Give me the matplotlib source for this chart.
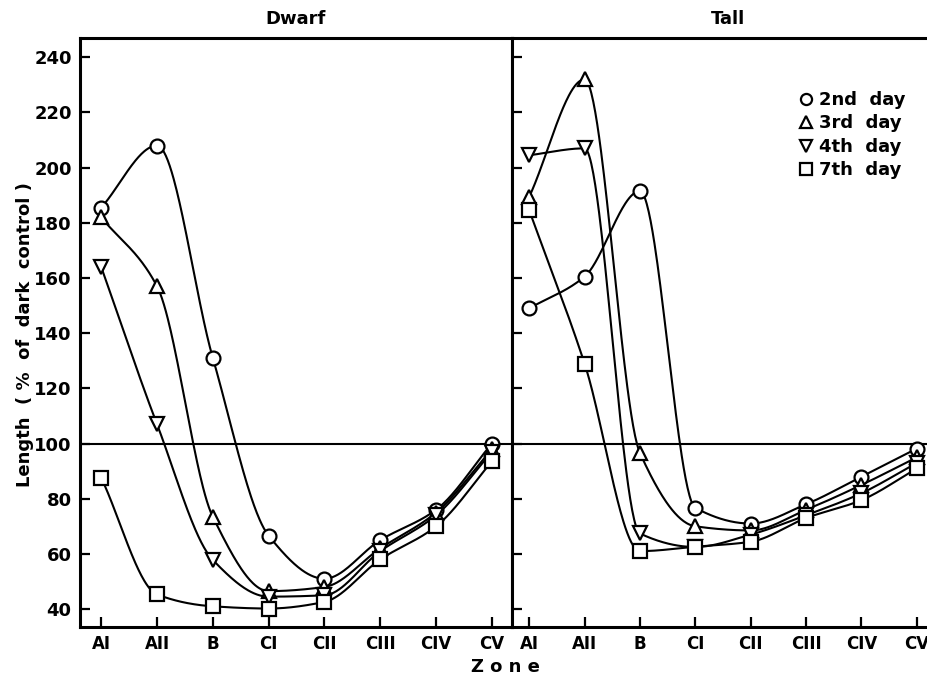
import numpy as np
import matplotlib
matplotlib.use("Agg")
import matplotlib.pyplot as plt

plt.rcParams['font.family'] = ['DejaVu Sans']
plt.rcParams['font.weight'] = 'bold'

zones = ["AI", "AII", "B", "CI", "CII", "CIII", "CIV", "CV"]
days = ["2nd  day", "3rd  day", "4th  day", "7th  day"]
markers = ["o", "^", "v", "s"]

dwarf_2nd = [185.5, 208, 131, 66.6, 51, 65, 76, 100]
dwarf_3rd = [182, 157, 73.4, 46.5, 48, 62, 75, 98]
dwarf_4th = [164, 107, 57.8, 44.5, 45, 61, 74, 97]
dwarf_7th = [87.6, 45.3, 41, 40.2, 42.6, 58, 70, 93.5]

tall_2nd = [149, 160.5, 191.5, 76.7, 71, 78, 88, 98.2]
tall_3rd = [189.4, 232, 96.6, 70, 68.5, 76, 85, 95]
tall_4th = [204.5, 207, 67.4, 62.5, 67, 74, 82, 93]
tall_7th = [184.6, 129, 61, 62.6, 64.4, 73, 79.5, 91]

dwarf = [dwarf_2nd, dwarf_3rd, dwarf_4th, dwarf_7th]
tall = [tall_2nd, tall_3rd, tall_4th, tall_7th]


def pchip(x, y, xs):
    # monotone cubic, keeps the hand-drawn look without overshoot
    x = np.asarray(x, float)
    y = np.asarray(y, float)
    h = np.diff(x)
    d = np.diff(y) / h
    m = np.zeros_like(y)
    for k in range(1, len(y) - 1):
        if d[k - 1] * d[k] > 0:
            w1 = 2 * h[k] + h[k - 1]
            w2 = h[k] + 2 * h[k - 1]
            m[k] = (w1 + w2) / (w1 / d[k - 1] + w2 / d[k])
    m[0] = d[0]
    m[-1] = d[-1]
    idx = np.clip(np.searchsorted(x, xs) - 1, 0, len(h) - 1)
    t = (xs - x[idx]) / h[idx]
    h00 = 2 * t**3 - 3 * t**2 + 1
    h10 = t**3 - 2 * t**2 + t
    h01 = -2 * t**3 + 3 * t**2
    h11 = t**3 - t**2
    return (h00 * y[idx] + h10 * h[idx] * m[idx]
            + h01 * y[idx + 1] + h11 * h[idx] * m[idx + 1])


fig = plt.figure(figsize=(9.28, 6.8), dpi=100)
W, H = 928, 680
bot, top = 627, 38
axL = fig.add_axes([80 / W, 1 - bot / H, 432 / W, (bot - top) / H])
axR = fig.add_axes([512 / W, 1 - bot / H, 432 / W, (bot - top) / H])

xpos = np.arange(len(zones))
xs = np.linspace(0, len(zones) - 1, 400)

for ax, data, title, xl in [(axL, dwarf, "Dwarf", (-0.38, 7.36)),
                            (axR, tall, "Tall", (-0.31, 7.49))]:
    ax.axhline(100, color="black", lw=1.5, zorder=1)
    for vals, mk, lab in zip(data, markers, days):
        ax.plot(xs, pchip(xpos, vals, xs), color="black", lw=1.5, zorder=2)
        ax.plot(xpos, vals, linestyle="none", marker=mk, ms=10,
                mfc="white", mec="black", mew=1.6, zorder=3, label=lab)
    ax.set_xlim(*xl)
    ax.set_ylim(33.5, 247)
    ax.set_xticks(xpos)
    ax.set_xticklabels(zones, fontsize=12, fontweight="bold")
    ax.set_yticks(np.arange(40, 241, 20))
    ax.tick_params(direction="in", length=7, width=1.6, pad=6)
    for s in ax.spines.values():
        s.set_linewidth(2.2)
    ax.set_title(title, fontsize=13, fontweight="bold", pad=10)

axL.tick_params(axis="y", labelsize=13)
axR.tick_params(axis="y", labelleft=False)
axR.spines["right"].set_visible(False)

fig.text(25 / W, 1 - 335 / H, "Length  ( %  of  dark  control )",
         rotation=90, ha="center", va="center", fontsize=13,
         fontweight="bold")
fig.text(505 / W, 1 - 667 / H, "Z o n e", ha="center", va="center",
         fontsize=13, fontweight="bold")

axR.legend(loc="upper left", bbox_to_anchor=(0.66, 0.91), frameon=False,
           fontsize=13, handletextpad=0.2, labelspacing=0.3,
           borderaxespad=0, borderpad=0, handlelength=1.0, markerscale=0.8)

fig.savefig("out.png", dpi=100)
